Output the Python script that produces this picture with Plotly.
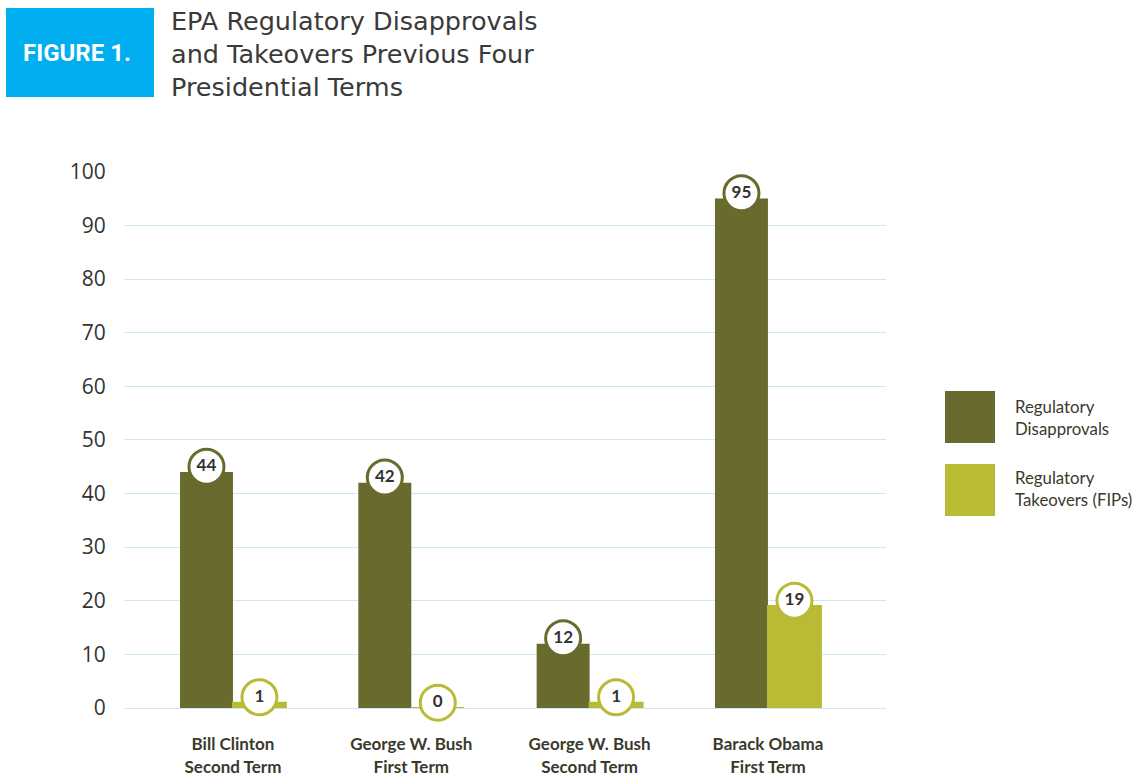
import plotly.graph_objects as go

categories = ["Bill Clinton<br>Second Term", "George W. Bush<br>First Term",
              "George W. Bush<br>Second Term", "Barack Obama<br>First Term"]
disapprovals = [44, 42, 12, 95]
takeovers = [1, 0, 1, 19]
y_ticks = [0, 10, 20, 30, 40, 50, 60, 70, 80, 90, 100]

DARK = "#686a2e"
LIGHT = "#b9bb35"
TEXT = "#3a3a2c"
GRID = "#cbe8f7"

W, H = 1141, 775
L, R, T, B = 124, 886, 171, 708  # plot area pixel bounds


def xp(px):
    return (px - L) / (R - L)


def yp(py):
    return (B - py) / (B - T)


bw = 0.297
xs = list(range(len(categories)))
YMAX = 100.15

fig = go.Figure()
fig.add_trace(go.Bar(x=xs, y=disapprovals, width=bw, offset=-bw, marker_color=DARK,
                     marker_line_width=0, name="Regulatory Disapprovals", showlegend=False))
fig.add_trace(go.Bar(x=xs, y=takeovers, width=bw, offset=0, marker_color=LIGHT,
                     marker_line_color=LIGHT, marker_line_width=2,
                     name="Regulatory Takeovers (FIPs)", showlegend=False))

lab_font = dict(family="Lato", size=17, color="#333333", weight="bold")
fig.add_trace(go.Scatter(x=[x - bw / 2 for x in xs], y=disapprovals, mode="markers+text",
                         yaxis="y2",
                         text=[str(v) for v in disapprovals], textposition="middle center",
                         textfont=lab_font,
                         marker=dict(size=35, color="white", line=dict(color=DARK, width=3)),
                         cliponaxis=False, showlegend=False, hoverinfo="skip"))
fig.add_trace(go.Scatter(x=[x + bw / 2 for x in xs], y=takeovers, mode="markers+text",
                         yaxis="y2",
                         text=[str(v) for v in takeovers], textposition="middle center",
                         textfont=lab_font,
                         marker=dict(size=35, color="white", line=dict(color=LIGHT, width=3)),
                         cliponaxis=False, showlegend=False, hoverinfo="skip"))

fig.update_layout(
    width=W, height=H,
    margin=dict(l=L, r=W - R, t=T, b=H - B, pad=0),
    paper_bgcolor="white", plot_bgcolor="white",
    barmode="overlay",
    xaxis=dict(range=[-0.611, 3.662], tickvals=xs, ticktext=categories, showgrid=False,
               zeroline=False, showline=False, ticks="outside", ticklen=21,
               tickcolor="rgba(0,0,0,0)", automargin=False,
               tickfont=dict(family="Lato", size=17, color=TEXT, weight="bold")),
    yaxis=dict(range=[0, YMAX], tickvals=y_ticks, showgrid=True, gridcolor=GRID, gridwidth=1.3,
               zeroline=True, zerolinecolor=GRID, zerolinewidth=1.3, showline=False,
               ticks="outside", ticklen=13, tickcolor="rgba(0,0,0,0)", automargin=False,
               tickfont=dict(family="Open Sans", size=21, color="#333333")),
    yaxis2=dict(range=[-1, YMAX - 1], overlaying="y", visible=False, automargin=False),
)

shapes = [
    dict(type="rect", xref="paper", yref="paper", x0=xp(6), x1=xp(154), y0=yp(97), y1=yp(8),
         fillcolor="#00aeef", line_width=0),
    dict(type="rect", xref="paper", yref="paper", x0=xp(945), x1=xp(995), y0=yp(443), y1=yp(391),
         fillcolor=DARK, line_width=0),
    dict(type="rect", xref="paper", yref="paper", x0=xp(945), x1=xp(995), y0=yp(516), y1=yp(464),
         fillcolor=LIGHT, line_width=0),
]
fig.update_layout(shapes=shapes)

annotations = [
    dict(text="FIGURE 1.", xref="paper", yref="paper", x=xp(77), y=yp(53), xanchor="center",
         yanchor="middle", showarrow=False,
         font=dict(family="Roboto", size=24, color="white", weight="bold")),
    dict(text="EPA Regulatory Disapprovals<br>and Takeovers Previous Four<br>Presidential Terms",
         xref="paper", yref="paper", x=xp(170), y=yp(54), xanchor="left", yanchor="middle",
         align="left", showarrow=False, borderpad=0,
         font=dict(family="DejaVu Sans", size=25.5, color="#3a3a3a")),
    dict(text="Regulatory<br>Disapprovals", xref="paper", yref="paper", x=xp(1014), y=yp(417),
         xanchor="left", yanchor="middle", align="left", showarrow=False, borderpad=0,
         font=dict(family="Lato", size=16.8, color=TEXT)),
    dict(text="Regulatory<br>Takeovers (FIPs)", xref="paper", yref="paper", x=xp(1014), y=yp(489),
         xanchor="left", yanchor="middle", align="left", showarrow=False, borderpad=0,
         font=dict(family="Lato", size=16.8, color=TEXT)),
]
fig.update_layout(annotations=annotations)

fig.write_html("out.html", config={"displayModeBar": False},
               post_script="document.body.style.margin='0';")
